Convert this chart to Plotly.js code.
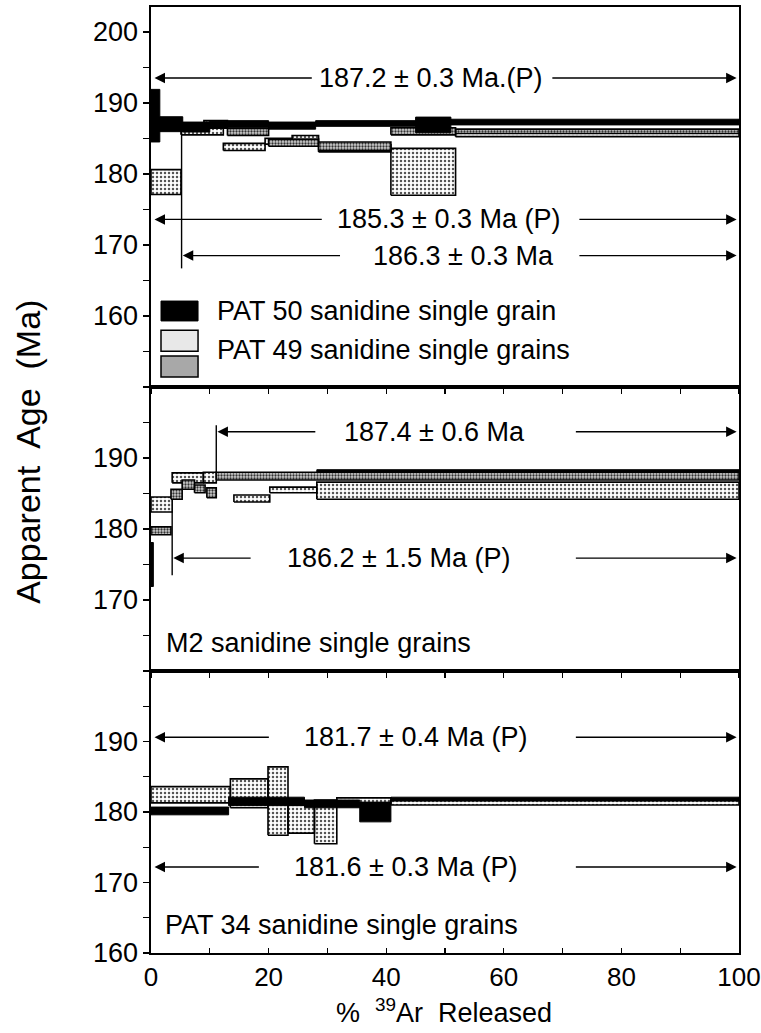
<!DOCTYPE html>
<html><head><meta charset="utf-8">
<script src="https://cdn.plot.ly/plotly-3.0.1.min.js"></script>
<style>html,body{margin:0;padding:0;background:#fff}#chart{width:761px;height:1033px}</style>
</head><body><div id="chart"></div>
<script>
// ===== Panel 1: PAT 50 (black) and PAT 49 (stippled) — step start %, end %, age (Ma), half-height error (Ma)
const p1BlackFrom = [0, 1.5, 5.4, 10, 13, 20, 28, 45, 51];
const p1BlackTo   = [1.5, 5.4, 10, 13, 20, 28, 45, 51, 100];
const p1BlackAge  = [188.2, 187.0, 186.6, 186.9, 187.0, 186.8, 187.1, 186.9, 187.3];
const p1BlackErr  = [3.7, 1.05, 0.7, 0.5, 0.5, 0.5, 0.4, 1.1, 0.4];

const p1LightFrom = [0, 5.1, 12.3, 19.4, 24, 28.5, 40.8, 51.8];
const p1LightTo   = [5.1, 12.3, 19.4, 24, 28.5, 40.8, 51.8, 100];
const p1LightAge  = [178.85, 186.0, 183.8, 184.6, 185.0, 183.6, 180.3, 185.5];
const p1LightErr  = [1.75, 0.5, 0.5, 0.4, 0.4, 0.5, 3.3, 0.25];

const p1DarkFrom = [9, 13, 20, 28.5, 40.8, 51.8];
const p1DarkTo   = [13, 20, 28.5, 40.8, 51.8, 100];
const p1DarkAge  = [187.0, 185.9, 184.4, 183.9, 186.0, 186.0];
const p1DarkErr  = [0.5, 0.5, 0.5, 0.6, 0.5, 0.3];

// ===== Panel 2: M2 sanidine single grains
const p2BlackFrom = [0, 28.2];
const p2BlackTo   = [0.4, 100];
const p2BlackAge  = [175.0, 188.15];
const p2BlackErr  = [3.1, 0.2];

const p2LightFrom = [0, 3.6, 8.9, 14.1, 20.2, 28.2];
const p2LightTo   = [3.6, 8.9, 11.1, 20.2, 28.2, 100];
const p2LightAge  = [183.45, 187.2, 187.25, 184.3, 185.5, 185.4];
const p2LightErr  = [1.05, 0.7, 0.75, 0.5, 0.4, 1.2];

const p2DarkFrom = [0, 3.4, 5.3, 7.4, 9.5, 11.1];
const p2DarkTo   = [3.4, 5.3, 7.4, 9.2, 11.1, 100];
const p2DarkAge  = [179.75, 184.9, 186.25, 185.65, 185.1, 187.45];
const p2DarkErr  = [0.55, 0.7, 0.65, 0.55, 0.7, 0.55];

// ===== Panel 3: PAT 34 sanidine single grains
const p3BlackFrom = [0, 13.2, 26.1, 35.5, 40.8];
const p3BlackTo   = [13.2, 26.1, 35.5, 40.8, 100];
const p3BlackAge  = [180.15, 181.5, 181.15, 180.0, 181.85];
const p3BlackErr  = [0.55, 0.6, 0.55, 1.4, 0.25];

const p3LightFrom = [0, 13.5, 19.9, 23.3, 27.8, 31.6, 40.8];
const p3LightTo   = [13.5, 19.9, 23.3, 27.8, 31.6, 40.8, 100];
const p3LightAge  = [182.45, 182.65, 181.55, 179.0, 178.6, 181.65, 181.3];
const p3LightErr  = [1.15, 2.05, 4.85, 2.0, 3.1, 0.35, 0.3];

// ===== tick labels
const y1TickVals = [155, 160, 165, 170, 175, 180, 185, 190, 195, 200];
const y1TickText = ['', '160', '', '170', '', '180', '', '190', '', '200'];
const y2TickVals = [160, 165, 170, 175, 180, 185, 190, 195, 200];
const y2TickText = ['', '', '170', '', '180', '', '190', '', ''];
const y3TickVals = [160, 165, 170, 175, 180, 185, 190, 195, 200];
const y3TickText = ['160', '', '170', '', '180', '', '190', '', ''];
const xTickVals = [0, 10, 20, 30, 40, 50, 60, 70, 80, 90, 100];
const xTickText = ['0', '', '20', '', '40', '', '60', '', '80', '', '100'];

const FONT = 'Liberation Sans, Arial, Helvetica, sans-serif';

function boxes(from, to, age, err) {
  const xs = [], ys = [];
  for (let i = 0; i < from.length; i++) {
    const lo = age[i] - err[i], hi = age[i] + err[i];
    xs.push(from[i], to[i], to[i], from[i], from[i], null);
    ys.push(lo, lo, hi, hi, lo, null);
  }
  return {xs, ys};
}
const STYLE = {
  black: {fillcolor: '#000', line: {color: '#000', width: 1}},
  light: {fillcolor: '#f4f4f4', fillpattern: {shape: '.', bgcolor: '#ffffff', fgcolor: '#555', size: 4, solidity: 0.3}, line: {color: '#000', width: 1.6}},
  dark:  {fillcolor: '#b8b8b8', fillpattern: {shape: '.', bgcolor: '#d0d0d0', fgcolor: '#333', size: 3, solidity: 0.45}, line: {color: '#000', width: 1.6}}
};
function trace(from, to, age, err, kind, xa, ya) {
  const b = boxes(from, to, age, err);
  return Object.assign({type: 'scatter', mode: 'lines', x: b.xs, y: b.ys, fill: 'toself',
    xaxis: xa, yaxis: ya, hoverinfo: 'skip', showlegend: false}, STYLE[kind]);
}

const data = [
  trace(p1LightFrom, p1LightTo, p1LightAge, p1LightErr, 'light', 'x', 'y'),
  trace(p1DarkFrom, p1DarkTo, p1DarkAge, p1DarkErr, 'dark', 'x', 'y'),
  trace(p1BlackFrom, p1BlackTo, p1BlackAge, p1BlackErr, 'black', 'x', 'y'),
  trace(p2LightFrom, p2LightTo, p2LightAge, p2LightErr, 'light', 'x2', 'y2'),
  trace(p2DarkFrom, p2DarkTo, p2DarkAge, p2DarkErr, 'dark', 'x2', 'y2'),
  trace(p2BlackFrom, p2BlackTo, p2BlackAge, p2BlackErr, 'black', 'x2', 'y2'),
  trace(p3LightFrom, p3LightTo, p3LightAge, p3LightErr, 'light', 'x3', 'y3'),
  trace(p3BlackFrom, p3BlackTo, p3BlackAge, p3BlackErr, 'black', 'x3', 'y3')
];

const tickFont = {family: FONT, size: 27, color: '#000'};
function yax(domain, range, vals, text, anchor) {
  return {domain, range, anchor, tickmode: 'array', tickvals: vals, ticktext: text,
    ticks: 'outside', ticklen: 6, tickwidth: 1.3, tickcolor: '#000',
    showline: true, linewidth: 1.6, linecolor: '#000', mirror: true,
    showgrid: false, zeroline: false, tickfont: tickFont, fixedrange: true};
}
function xax(anchor, labels) {
  return {domain: [0, 1], range: [0, 100], anchor, tickmode: 'array', tickvals: xTickVals,
    ticktext: labels ? xTickText : xTickVals.map(() => ''), ticks: labels ? 'inside' : 'outside', ticklen: 5,
    tickwidth: 1.3, tickcolor: '#000', showline: true, linewidth: 1.6, linecolor: '#000',
    mirror: true, showgrid: false, zeroline: false,
    tickfont: {family: FONT, size: 26, color: '#000'}, fixedrange: true,
    ticklabeloverflow: 'allow'};
}

const annFont = {family: FONT, size: 27, color: '#000'};
function label(xr, yr, x, y, text, anchor) {
  return {xref: xr, yref: yr, x, y, text, showarrow: false, font: annFont,
    xanchor: anchor || 'center', yanchor: 'middle'};
}
function arrow(xr, yr, y, from, to) {
  return {xref: xr, yref: yr, x: to, y, ax: from, ay: y, axref: xr, ayref: yr, text: '',
    showarrow: true, arrowhead: 2, arrowsize: 1.5, arrowwidth: 1.4, arrowcolor: '#000', standoff: 0};
}
function vline(xr, yr, x, y0, y1) {
  return {type: 'line', xref: xr, yref: yr, x0: x, x1: x, y0, y1, line: {color: '#000', width: 1.4}};
}

const annotations = [
  label('x', 'y', 47.5, 193.5, '187.2 ± 0.3 Ma.(P)'),
  arrow('x', 'y', 193.5, 27.6, 0.6), arrow('x', 'y', 193.5, 68, 99.6),
  label('x', 'y', 50.6, 173.6, '185.3 ± 0.3 Ma (P)'),
  arrow('x', 'y', 173.6, 29.3, 0.6), arrow('x', 'y', 173.6, 72.6, 99.6),
  label('x', 'y', 53.1, 168.5, '186.3 ± 0.3 Ma'),
  arrow('x', 'y', 168.5, 32.4, 5.4), arrow('x', 'y', 168.5, 72.6, 99.6),
  label('x', 'y', 10.9, 160.7, 'PAT 50 sanidine single grain', 'left'),
  label('x', 'y', 10.9, 155.2, 'PAT 49 sanidine single grains', 'left'),

  label('x2', 'y2', 48.2, 193.7, '187.4 ± 0.6 Ma'),
  arrow('x2', 'y2', 193.7, 28.2, 11.3), arrow('x2', 'y2', 193.7, 72, 99.6),
  label('x2', 'y2', 42.1, 175.9, '186.2 ± 1.5 Ma (P)'),
  arrow('x2', 'y2', 175.9, 17.2, 3.8), arrow('x2', 'y2', 175.9, 72, 99.6),
  label('x2', 'y2', 2.2, 163.9, 'M2 sanidine single grains', 'left'),

  label('x3', 'y3', 45, 190.6, '181.7 ± 0.4 Ma (P)'),
  arrow('x3', 'y3', 190.6, 20.3, 0.6), arrow('x3', 'y3', 190.6, 72, 99.6),
  label('x3', 'y3', 43.3, 172.2, '181.6 ± 0.3 Ma (P)'),
  arrow('x3', 'y3', 172.2, 18.6, 0.6), arrow('x3', 'y3', 172.2, 72, 99.6),
  label('x3', 'y3', 2, 164, 'PAT 34 sanidine single grains', 'left'),

  {xref: 'paper', yref: 'paper', x: -0.2105, y: 0.53, text: 'Apparent  Age  (Ma)', textangle: -90,
    showarrow: false, font: {family: FONT, size: 34, color: '#000'}, xanchor: 'center', yanchor: 'middle'},
  {xref: 'paper', yref: 'paper', x: 0.499, y: -0.061, text: '%  <sup>39</sup>Ar  Released',
    showarrow: false, font: {family: FONT, size: 27, color: '#000'}, xanchor: 'center', yanchor: 'middle'}
];

const shapes = [
  vline('x', 'y', 5.2, 166.7, 188.0),
  vline('x2', 'y2', 11.1, 188.0, 194.6),
  vline('x2', 'y2', 3.6, 173.5, 182.4),
  // legend swatches
  {type: 'rect', xref: 'x', yref: 'y', x0: 1.7, x1: 8.0, y0: 159.3, y1: 162.1, fillcolor: '#000', line: {color: '#000', width: 1}},
  {type: 'rect', xref: 'x', yref: 'y', x0: 1.7, x1: 8.0, y0: 155.05, y1: 158.0, fillcolor: '#e8e8e8', line: {color: '#000', width: 1.5}},
  {type: 'rect', xref: 'x', yref: 'y', x0: 1.7, x1: 8.0, y0: 151.4, y1: 154.35, fillcolor: '#a8a8a8', line: {color: '#000', width: 1.5}}
];

const layout = {
  width: 761, height: 1033,
  margin: {l: 151, r: 22, t: 7, b: 80},
  paper_bgcolor: '#fff', plot_bgcolor: '#fff',
  showlegend: false,
  font: {family: FONT, color: '#000'},
  xaxis: xax('y', false),
  xaxis2: xax('y2', false),
  xaxis3: xax('y3', true),
  yaxis: yax([0.5983, 1], [150, 203.5], y1TickVals, y1TickText, 'x'),
  yaxis2: yax([0.2981, 0.5983], [160, 200], y2TickVals, y2TickText, 'x2'),
  yaxis3: yax([0, 0.2981], [160, 200], y3TickVals, y3TickText, 'x3'),
  annotations, shapes
};

Plotly.newPlot('chart', data, layout, {staticPlot: true, displayModeBar: false});
</script></body></html>
